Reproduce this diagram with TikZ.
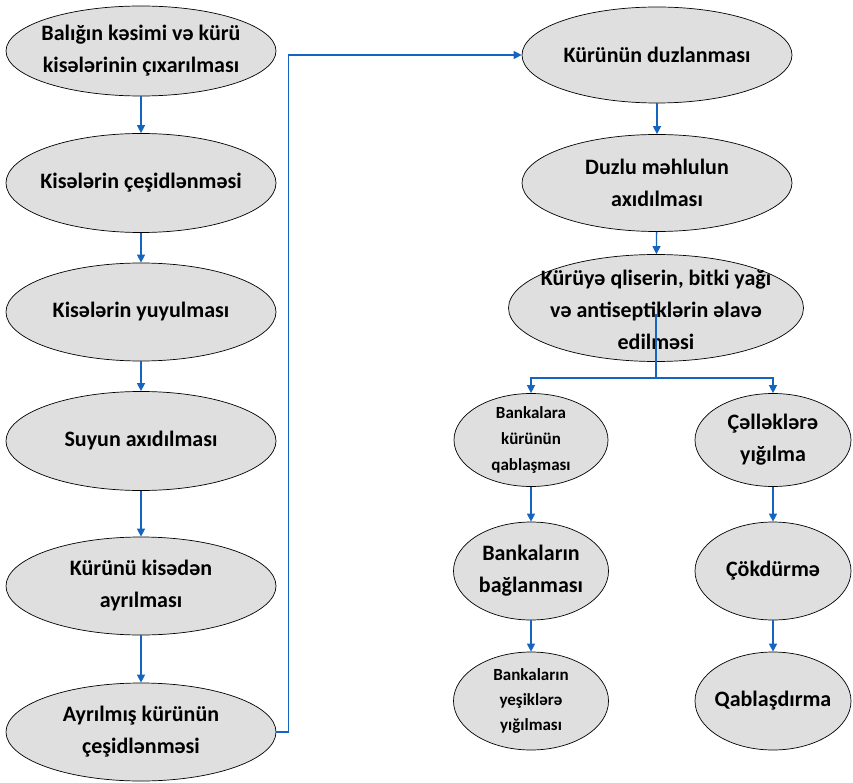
\documentclass[tikz,border=0pt]{standalone}
\usepackage{fontspec}
\setmainfont{Carlito}
\usetikzlibrary{shapes.geometric,arrows.meta}
\definecolor{stepfill}{RGB}{223,223,223}
\definecolor{flowblue}{RGB}{21,101,192}
\tikzset{
  proc/.style={ellipse, draw=black, line width=0.7pt, fill=stepfill, inner sep=0pt},
  ptext/.style={align=center, inner sep=0pt, font=\bfseries\fontsize{22}{32}\selectfont},
  ptextsmall/.style={align=center, inner sep=0pt, font=\bfseries\fontsize{17}{26}\selectfont},
  flow/.style={draw=flowblue, line width=1.3pt},
  arr/.style={flow, -{Triangle[length=8pt,width=8pt]}},
}
\begin{document}
\begin{tikzpicture}[x=1pt,y=1pt]
\useasboundingbox (0,0) rectangle (853,-783);

% left column
\node[proc, minimum width=270, minimum height=90] (s1) at (141,-51) {};
\node[ptext] (s1t) at (s1) {Balığın kəsimi və kürü\\kisələrinin çıxarılması};
\node[proc, minimum width=270, minimum height=99] (s2) at (141,-183) {};
\node[ptext] (s2t) at (s2) {Kisələrin çeşidlənməsi};
\node[proc, minimum width=270, minimum height=98] (s3) at (141,-312) {};
\node[ptext] (s3t) at (s3) {Kisələrin yuyulması};
\node[proc, minimum width=270, minimum height=99] (s4) at (141,-441) {};
\node[ptext] (s4t) at (s4) {Suyun axıdılması};
\node[proc, minimum width=270, minimum height=98] (s5) at (141,-586) {};
\node[ptext] (s5t) at (s5) {Kürünü kisədən\\ayrılması};
\node[proc, minimum width=270, minimum height=98] (s6) at (141,-732) {};
\node[ptext] (s6t) at (s6) {Ayrılmış kürünün\\çeşidlənməsi};

% right column
\node[proc, minimum width=270, minimum height=96] (r1) at (657,-55) {};
\node[ptext] (r1t) at (r1) {Kürünün duzlanması};
\node[proc, minimum width=270, minimum height=97] (r2) at (657,-183) {};
\node[ptext] (r2t) at (r2) {Duzlu məhlulun\\axıdılması};
\node[proc, minimum width=295, minimum height=107] (r3) at (656,-308) {};
\node[ptext] (r3t) at (656,-310) {Kürüyə qliserin, bitki yağı\\və antiseptiklərin əlavə\\edilməsi};

% branches
\node[proc, minimum width=154, minimum height=93] (b1) at (531,-440) {};
\node[ptextsmall] (b1t) at (b1) {Bankalara\\kürünün\\qablaşması};
\node[proc, minimum width=155, minimum height=98] (b2) at (531,-571) {};
\node[ptext] (b2t) at (b2) {Bankaların\\bağlanması};
\node[proc, minimum width=155, minimum height=98] (b3) at (531,-701) {};
\node[ptextsmall, font=\bfseries\fontsize{17}{25}\selectfont] (b3t) at (b3) {Bankaların\\yeşiklərə\\yığılması};

\node[proc, minimum width=156, minimum height=93] (c1) at (773,-440) {};
\node[ptext] (c1t) at (c1) {Çəlləklərə\\yığılma};
\node[proc, minimum width=156, minimum height=98] (c2) at (773,-571) {};
\node[ptext] (c2t) at (c2) {Çökdürmə};
\node[proc, minimum width=156, minimum height=98] (c3) at (773,-701) {};
\node[ptext] (c3t) at (c3) {Qablaşdırma};

% connectors
\draw[arr] (s1) -- (s2);
\draw[arr] (s2) -- (s3);
\draw[arr] (s3) -- (s4);
\draw[arr] (s4) -- (s5);
\draw[arr] (s5) -- (s6);
\draw[arr] (s6.east) -- ++(12,0) |- (r1.west);
\draw[arr] (r1) -- (r2);
\draw[arr] (r2) -- (r3);

\coordinate (split) at (656,-378);
\draw[flow] (r3.center) ++(0,-6) -- (split);
\draw[arr] (split) -| (b1);
\draw[arr] (split) -| (c1);
\draw[arr] (b1) -- (b2);
\draw[arr] (b2) -- (b3);
\draw[arr] (c1) -- (c2);
\draw[arr] (c2) -- (c3);
\end{tikzpicture}
\end{document}
